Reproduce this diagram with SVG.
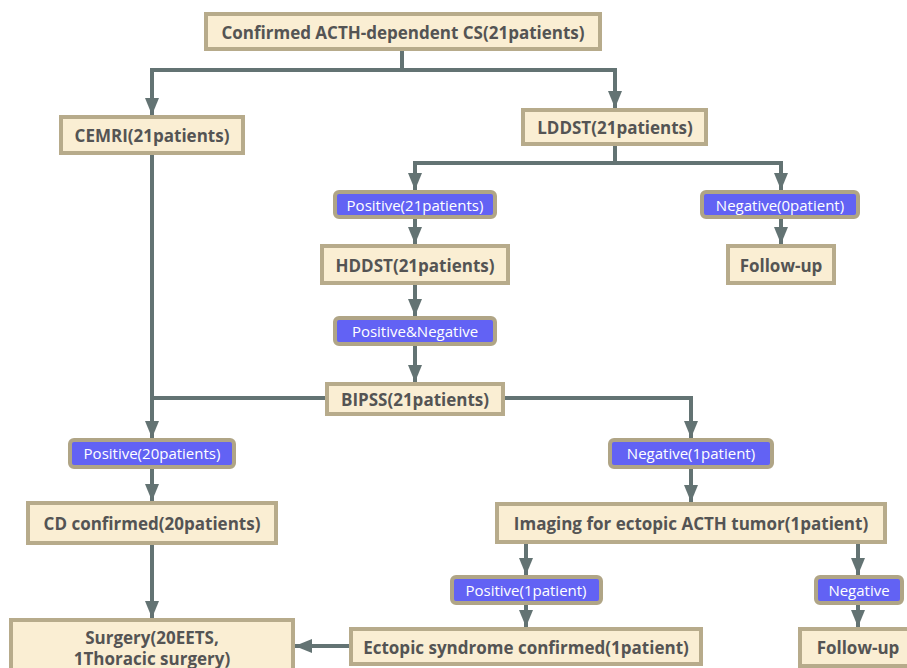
<svg xmlns="http://www.w3.org/2000/svg" width="907" height="668" viewBox="0 0 907 668">
<defs>
<style>
.box{fill:#FAEED3;stroke:#B7AB8B;stroke-width:4}
.lab{fill:#6262F4;stroke:#B0A586;stroke-width:4}
.bt{font-family:"Open Sans","Noto Sans",sans-serif;font-weight:bold;font-size:17px;fill:#545454;text-anchor:middle;dominant-baseline:central}
.lt{font-family:"Open Sans","Noto Sans",sans-serif;font-size:15px;fill:#FFFFFF;text-anchor:middle;dominant-baseline:central}
.c{fill:none;stroke:#637373;stroke-width:4}
</style>
<marker id="ah" markerUnits="userSpaceOnUse" markerWidth="16" markerHeight="18" viewBox="0 0 16 18" refX="17" refY="8" orient="auto">
<path d="M0,1 L17,8 L0,15 Z" fill="#637373"/>
</marker>
</defs>
<rect width="907" height="668" fill="#FFFFFF"/>
<g id="connectors">
<path class="c" d="M402,49 V70 H152 V115" marker-end="url(#ah)"/>
<path class="c" d="M402,70 H615 V108" marker-end="url(#ah)"/>
<path class="c" d="M152,153 V438" marker-end="url(#ah)"/>
<path class="c" d="M615,144 V163 H415 V190" marker-end="url(#ah)"/>
<path class="c" d="M615,163 H781 V190" marker-end="url(#ah)"/>
<path class="c" d="M415,217 V244" marker-end="url(#ah)"/>
<path class="c" d="M781,217 V244" marker-end="url(#ah)"/>
<path class="c" d="M415,283 V316" marker-end="url(#ah)"/>
<path class="c" d="M415,344 V382" marker-end="url(#ah)"/>
<path class="c" d="M326,398 H152"/>
<path class="c" d="M504,398 H691 V438" marker-end="url(#ah)"/>
<path class="c" d="M152,467 V501" marker-end="url(#ah)"/>
<path class="c" d="M691,467 V502" marker-end="url(#ah)"/>
<path class="c" d="M152,543 V618" marker-end="url(#ah)"/>
<path class="c" d="M526,542 V575" marker-end="url(#ah)"/>
<path class="c" d="M858,542 V575" marker-end="url(#ah)"/>
<path class="c" d="M526,603 V627" marker-end="url(#ah)"/>
<path class="c" d="M858,603 V627" marker-end="url(#ah)"/>
<path class="c" d="M350,646 H295" marker-end="url(#ah)"/>
</g>
<g id="n-top"><rect class="box" x="206" y="14" width="394" height="35"/><text class="bt" x="403" y="32">Confirmed ACTH-dependent CS(21patients)</text></g>
<g id="n-cemri"><rect class="box" x="61" y="117" width="182" height="36"/><text class="bt" x="152" y="135">CEMRI(21patients)</text></g>
<g id="n-lddst"><rect class="box" x="523" y="110" width="183" height="34"/><text class="bt" x="615" y="127">LDDST(21patients)</text></g>
<g id="n-pos21"><rect class="lab" x="335" y="192" width="160" height="25" rx="4"/><text class="lt" x="415" y="205">Positive(21patients)</text></g>
<g id="n-neg0"><rect class="lab" x="702" y="192" width="156" height="25" rx="4"/><text class="lt" x="780" y="205">Negative(0patient)</text></g>
<g id="n-hddst"><rect class="box" x="322" y="246" width="186" height="37"/><text class="bt" x="415" y="265">HDDST(21patients)</text></g>
<g id="n-fu1"><rect class="box" x="728" y="246" width="106" height="37"/><text class="bt" x="781" y="265">Follow-up</text></g>
<g id="n-posneg"><rect class="lab" x="335" y="318" width="160" height="26" rx="4"/><text class="lt" x="415" y="331">Positive&amp;Negative</text></g>
<g id="n-bipss"><rect class="box" x="327" y="384" width="176" height="30"/><text class="bt" x="415" y="399">BIPSS(21patients)</text></g>
<g id="n-pos20"><rect class="lab" x="70" y="440" width="164" height="27" rx="4"/><text class="lt" x="152" y="453">Positive(20patients)</text></g>
<g id="n-neg1"><rect class="lab" x="610" y="440" width="162" height="27" rx="4"/><text class="lt" x="691" y="453">Negative(1patient)</text></g>
<g id="n-cd"><rect class="box" x="28" y="503" width="248" height="40"/><text class="bt" x="152" y="523">CD confirmed(20patients)</text></g>
<g id="n-img"><rect class="box" x="497" y="504" width="388" height="38"/><text class="bt" x="691" y="523">Imaging for ectopic ACTH tumor(1patient)</text></g>
<g id="n-pos1"><rect class="lab" x="452" y="577" width="149" height="26" rx="4"/><text class="lt" x="526" y="590">Positive(1patient)</text></g>
<g id="n-negb"><rect class="lab" x="816" y="577" width="86" height="26" rx="4"/><text class="lt" x="859" y="590">Negative</text></g>
<g id="n-surgery"><rect class="box" x="11" y="620" width="282" height="52"/><text class="bt" x="152" y="637">Surgery(20EETS,</text><text class="bt" x="152" y="658">1Thoracic surgery)</text></g>
<g id="n-ectopic"><rect class="box" x="351" y="629" width="350" height="35"/><text class="bt" x="526" y="647">Ectopic syndrome confirmed(1patient)</text></g>
<g id="n-fu2"><rect class="box" x="800" y="629" width="112" height="37"/><text class="bt" x="858" y="647">Follow-up</text></g>
</svg>
